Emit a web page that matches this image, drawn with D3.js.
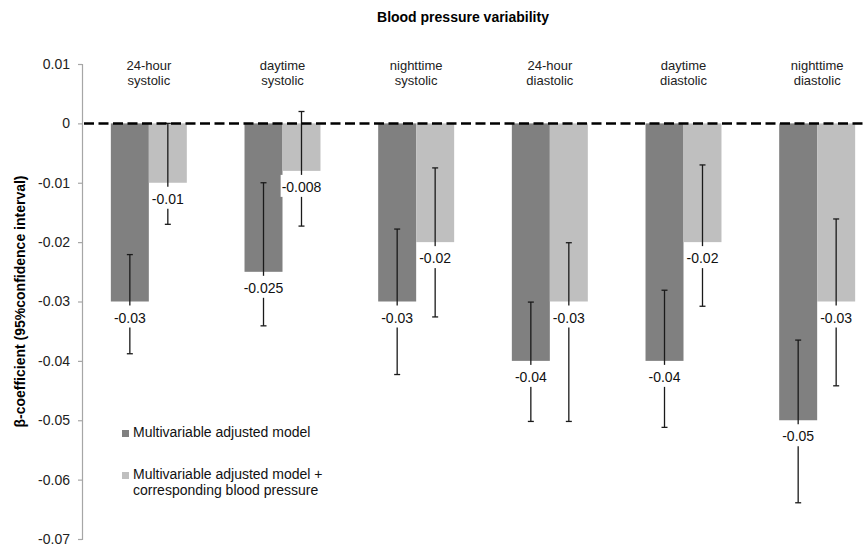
<!DOCTYPE html>
<html>
<head>
<meta charset="utf-8">
<script src="https://cdn.jsdelivr.net/npm/d3@7"></script>
<style>
  html, body { margin: 0; padding: 0; background: #fff; }
  svg { display: block; font-family: "Liberation Sans", Arial, sans-serif; }
</style>
</head>
<body>
<svg id="chart" width="864" height="547"></svg>
<script>
// ---- data ----
const categories = [
  ["24-hour", "systolic"],
  ["daytime", "systolic"],
  ["nighttime", "systolic"],
  ["24-hour", "diastolic"],
  ["daytime", "diastolic"],
  ["nighttime", "diastolic"]
];
const seriesNames = [
  "Multivariable adjusted model",
  "Multivariable adjusted model + corresponding blood pressure"
];
const modelValues    = [-0.03, -0.025, -0.03, -0.04, -0.04, -0.05];
const modelLower     = [-0.0388, -0.0341, -0.0423, -0.0502, -0.0512, -0.0639];
const modelUpper     = [-0.0221, -0.0100, -0.0178, -0.0301, -0.0281, -0.0365];
const adjustedValues = [-0.01, -0.008, -0.02, -0.03, -0.02, -0.03];
const adjustedLower  = [-0.0170, -0.0173, -0.0326, -0.0502, -0.0308, -0.0442];
const adjustedUpper  = [0.0000, 0.0020, -0.0075, -0.0201, -0.0070, -0.0161];
const valueLabels = [
  ["-0.03", "-0.025", "-0.03", "-0.04", "-0.04", "-0.05"],
  ["-0.01", "-0.008", "-0.02", "-0.03", "-0.02", "-0.03"]
];
const yTicks = [0.01, 0, -0.01, -0.02, -0.03, -0.04, -0.05, -0.06, -0.07];
const yTickLabels = ["0.01", "0", "-0.01", "-0.02", "-0.03", "-0.04", "-0.05", "-0.06", "-0.07"];
const chartTitle = "Blood pressure variability";
const yTitle = "β-coefficient (95%confidence interval)";

// ---- build ----
const colors = ["#808080", "#bfbfbf"];
const series = [
  { values: modelValues, lower: modelLower, upper: modelUpper },
  { values: adjustedValues, lower: adjustedLower, upper: adjustedUpper }
];
const svg = d3.select("#chart");

const y = d3.scaleLinear().domain([-0.07, 0.01]).range([539, 64]);
const x0 = d3.scaleBand().domain(d3.range(categories.length))
  .range([82, 884]).paddingInner(0.4316).paddingOuter(0.2158);
const x1 = d3.scaleBand().domain([0, 1]).range([0, x0.bandwidth()]);

// title
svg.append("text").attr("x", 463).attr("y", 22)
  .attr("text-anchor", "middle").attr("font-weight", "bold")
  .attr("font-size", 14).text(chartTitle);

// y axis
const yAxis = d3.axisLeft(y).tickValues(yTicks).tickSize(4).tickPadding(8)
  .tickFormat((d, i) => yTickLabels[i]);
const ga = svg.append("g").attr("transform", "translate(82,0)").call(yAxis);
ga.select(".domain").attr("stroke", "#a6a6a6").attr("stroke-width", 1.2);
ga.selectAll(".tick line").attr("stroke", "#a6a6a6").attr("stroke-width", 1.2);
ga.selectAll(".tick text").attr("font-size", 14).attr("fill", "#222")
  .attr("font-family", "Liberation Sans, Arial, sans-serif");

// y title
svg.append("text")
  .attr("transform", `translate(25,${(y(0.01) + y(-0.07)) / 2}) rotate(-90)`)
  .attr("text-anchor", "middle").attr("font-weight", "bold")
  .attr("font-size", 14).text(yTitle);

// category labels
const catG = svg.append("g");
categories.forEach((lines, i) => {
  const cx = x0(i) + x0.bandwidth() / 2;
  const t = catG.append("text").attr("text-anchor", "middle").attr("font-size", 13).attr("fill", "#222");
  lines.forEach((l, j) => t.append("tspan").attr("x", cx).attr("y", 70 + j * 15).text(l));
});

// bars
series.forEach((s, si) => {
  svg.append("g").selectAll("rect").data(s.values).join("rect")
    .attr("x", (d, i) => x0(i) + x1(si))
    .attr("width", x1.bandwidth())
    .attr("y", d => Math.min(y(d), y(0)))
    .attr("height", d => Math.abs(y(d) - y(0)))
    .attr("fill", colors[si]);
});

// error bars
series.forEach((s, si) => {
  const g = svg.append("g").attr("stroke", "#1a1a1a").attr("stroke-width", 1.3);
  s.values.forEach((v, i) => {
    const cx = x0(i) + x1(si) + x1.bandwidth() / 2;
    g.append("line").attr("x1", cx).attr("x2", cx).attr("y1", y(s.upper[i])).attr("y2", y(s.lower[i]));
    [s.upper[i], s.lower[i]].forEach(e => {
      g.append("line").attr("x1", cx - 3).attr("x2", cx + 3).attr("y1", y(e)).attr("y2", y(e));
    });
  });
});

// value labels
series.forEach((s, si) => {
  const g = svg.append("g");
  s.values.forEach((v, i) => {
    const cx = x0(i) + x1(si) + x1.bandwidth() / 2;
    const txt = valueLabels[si][i];
    const bg = g.append("rect").attr("fill", "#fff");
    const t = g.append("text").attr("x", cx).attr("y", y(v) + 21).attr("text-anchor", "middle")
      .attr("font-size", 14).attr("fill", "#111").text(txt);
    const w = t.node().getComputedTextLength() + 2;
    bg.attr("x", cx - w / 2).attr("y", y(v) + 4).attr("width", w).attr("height", 22);
  });
});

// zero line
svg.append("line").attr("x1", 84).attr("x2", 864).attr("y1", y(0)).attr("y2", y(0))
  .attr("stroke", "#000").attr("stroke-width", 2.5).attr("stroke-dasharray", "10,4.5");

// legend
const legend = svg.append("g");
const legendRows = [[seriesNames[0]], ["Multivariable adjusted model +", "corresponding blood pressure"]];
const legendY = [437, 479];
legendRows.forEach((lines, i) => {
  legend.append("rect").attr("x", 122).attr("y", legendY[i] - 7).attr("width", 7).attr("height", 7).attr("fill", colors[i]);
  const t = legend.append("text").attr("font-size", 14).attr("fill", "#111");
  lines.forEach((l, j) => t.append("tspan").attr("x", 133).attr("y", legendY[i] + j * 16).text(l));
});
</script>
</body>
</html>
